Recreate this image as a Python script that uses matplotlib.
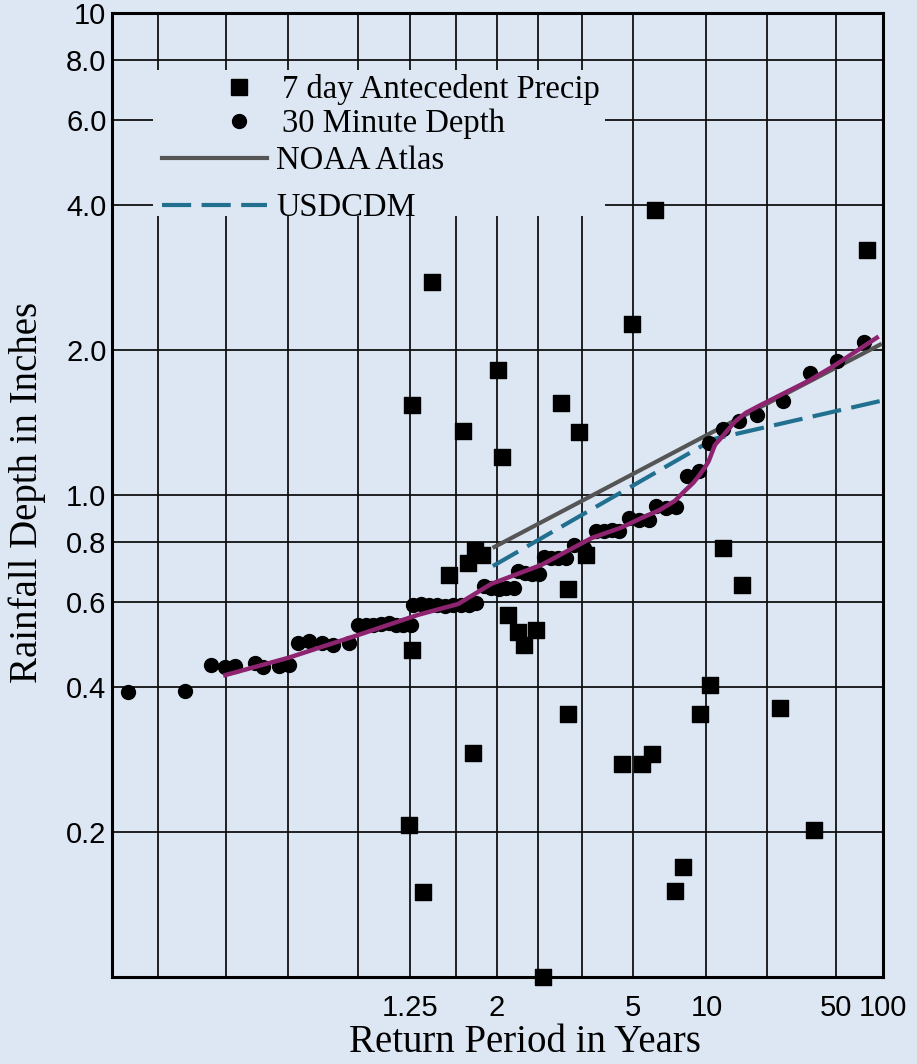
import matplotlib
matplotlib.use('Agg')
import matplotlib.pyplot as plt
from matplotlib.lines import Line2D
from matplotlib.patches import Rectangle
from matplotlib.ticker import FixedLocator, NullLocator

# x is the position on the probability paper (0 = left edge, 100 = 100-yr edge)
tick_pos = [38.6, 49.9, 67.6, 77.1, 93.9, 100]
tick_labels = ['1.25', '2', '5', '10', '50', '100']
grid_pos = [6.0, 14.8, 22.8, 31.9, 38.6, 44.6, 49.9, 55.3, 61.0, 67.6, 77.1, 85.0, 93.9]

y_ticks = [0.2, 0.4, 0.6, 0.8, 1.0, 2.0, 4.0, 6.0, 8.0, 10]
y_labels = ['0.2', '0.4', '0.6', '0.8', '1.0', '2.0', '4.0', '6.0', '8.0', '10']

# 7 day antecedent precip (squares)
sq_x = [38.9, 38.5, 40.4, 41.5, 43.7, 45.5, 46.2, 47.1, 48.0, 46.8, 50.1, 50.6,
        51.4, 52.7, 53.4, 55.0, 55.9, 58.3, 59.2, 59.2, 60.6, 61.5, 66.1, 67.5,
        68.7, 70.1, 70.4, 73.0, 74.0, 76.3, 77.6, 79.2, 81.7, 86.7, 91.0, 97.9, 38.9]
sq_y = [0.477, 0.207, 0.150, 2.77, 0.682, 1.36, 0.723, 0.769, 0.751, 0.292, 1.82, 1.20,
        0.564, 0.520, 0.489, 0.525, 0.100, 1.55, 0.638, 0.351, 1.35, 0.751, 0.277, 2.26,
        0.277, 0.290, 3.90, 0.151, 0.169, 0.351, 0.403, 0.776, 0.650, 0.361, 0.202, 3.22, 1.54]

# 30 minute depth (circles)
ci_x = [2.1, 9.5, 12.9, 14.6, 16.0, 18.5, 19.6, 21.7, 23.0, 24.1, 25.5, 27.3, 28.7, 30.7,
        31.9, 32.9, 33.8, 34.9, 35.9, 36.8, 37.7, 38.8, 39.1, 40.1, 41.1, 42.1, 43.2, 44.2,
        45.3, 46.3, 47.2, 48.2, 49.2, 50.2, 51.1, 52.1, 52.7, 53.6, 54.5, 55.4, 56.0, 57.0,
        57.9, 58.9, 59.9, 61.2, 62.8, 63.8, 64.8, 65.7, 67.0, 68.3, 69.7, 70.6, 71.9, 73.2,
        74.6, 76.2, 77.4, 79.3, 81.3, 83.6, 87.0, 90.5, 94.0, 97.5]
ci_y = [0.390, 0.392, 0.444, 0.440, 0.442, 0.448, 0.440, 0.442, 0.444, 0.493, 0.498, 0.493,
        0.489, 0.493, 0.537, 0.537, 0.537, 0.540, 0.542, 0.537, 0.537, 0.537, 0.591, 0.594,
        0.591, 0.590, 0.588, 0.590, 0.591, 0.591, 0.597, 0.647, 0.641, 0.638, 0.641, 0.641,
        0.696, 0.689, 0.686, 0.686, 0.743, 0.740, 0.740, 0.740, 0.788, 0.776, 0.842, 0.842,
        0.846, 0.842, 0.896, 0.887, 0.887, 0.949, 0.940, 0.944, 1.095, 1.121, 1.282, 1.370,
        1.424, 1.466, 1.567, 1.791, 1.897, 2.077]

noaa_x = [49.6, 77.1, 99.6]
noaa_y = [0.78, 1.33, 2.05]

usdcdm_x = [49.4, 78.1, 99.6]
usdcdm_y = [0.712, 1.307, 1.566]

fit_x = [14.7, 22.8, 31.9, 39.7, 44.9, 49.2, 55.7, 62.2, 66.0, 68.7, 71.0, 73.0, 74.3,
         75.4, 76.2, 76.9, 77.4, 78.2, 79.3, 80.8, 82.2, 83.9, 87.3, 90.5, 93.8, 99.2]
fit_y = [0.423, 0.459, 0.512, 0.564, 0.594, 0.654, 0.716, 0.814, 0.855, 0.896, 0.930, 0.972,
         1.02, 1.06, 1.10, 1.14, 1.176, 1.27, 1.33, 1.42, 1.48, 1.53, 1.63, 1.73, 1.86, 2.12]

bg = '#dde7f3'
plt.rcParams['font.family'] = ['Liberation Sans', 'DejaVu Sans']

fig = plt.figure(figsize=(9.17, 10.64), dpi=100, facecolor=bg)
ax = fig.add_axes([0.1221, 0.0818, 0.8408, 0.906])
ax.set_facecolor(bg)
ax.set_yscale('log')
ax.set_xlim(0, 100)
ax.set_ylim(0.1, 10)

ax.set_axisbelow(True)
ax.xaxis.set_major_locator(FixedLocator(tick_pos))
ax.set_xticklabels(tick_labels)
ax.xaxis.set_minor_locator(FixedLocator(grid_pos))
ax.yaxis.set_major_locator(FixedLocator(y_ticks))
ax.set_yticklabels(y_labels)
ax.yaxis.set_minor_locator(NullLocator())
ax.grid(True, which='both', axis='x', color='#111111', lw=1.3)
ax.grid(True, which='major', axis='y', color='#111111', lw=1.3)
ax.tick_params(axis='both', which='both', length=0, labelsize=21)
ax.tick_params(axis='x', pad=12)
ax.tick_params(axis='y', pad=4)
for s in ax.spines.values():
    s.set_linewidth(2.2)

# blank area behind the legend
ax.add_patch(Rectangle((0.053, 0.789), 0.587, 0.152, transform=ax.transAxes,
                       facecolor=bg, edgecolor='none', zorder=1))

ax.plot(noaa_x, noaa_y, color='#555555', lw=3, zorder=3)
ax.plot(usdcdm_x, usdcdm_y, color='#22708f', lw=3, dashes=(7, 2.5), zorder=3)
ax.scatter(ci_x, ci_y, marker='o', s=100, color='black', zorder=4)
ax.scatter(sq_x, sq_y, marker='s', s=125, color='black', zorder=4, clip_on=False)
ax.plot(fit_x, fit_y, color='#8e2470', lw=3.2, zorder=5, solid_joinstyle='round')

serif = ['Liberation Serif', 'DejaVu Serif']
ax.set_xlabel('Return Period in Years', fontsize=28, family=serif)
ax.set_ylabel('Rainfall Depth in Inches', fontsize=28, family=serif)
ax.xaxis.set_label_coords(0.536, -0.049)
ax.yaxis.set_label_coords(-0.086, 0.503)

h1 = [Line2D([], [], ls='none', marker='s', ms=11, color='black'),
      Line2D([], [], ls='none', marker='o', ms=10, color='black')]
leg1 = ax.legend(h1, ['7 day Antecedent Precip', '30 Minute Depth'],
                 loc='center left', bbox_to_anchor=(0.144, 0.9026), frameon=False,
                 prop={'family': serif, 'size': 23.5}, handlelength=1.0,
                 handletextpad=0.8, labelspacing=0.1, borderpad=0, borderaxespad=0)
ax.add_artist(leg1)
h2 = [Line2D([], [], color='#555555', lw=3),
      Line2D([], [], color='#22708f', lw=3, dashes=(7, 2.5))]
ax.legend(h2, ['NOAA Atlas', 'USDCDM'], loc='center left', bbox_to_anchor=(0.065, 0.822),
          frameon=False, prop={'family': serif, 'size': 23.5}, handlelength=3.2,
          handletextpad=0.3, labelspacing=0.5, borderpad=0, borderaxespad=0)

fig.savefig('out.png', dpi=100, facecolor=bg)
